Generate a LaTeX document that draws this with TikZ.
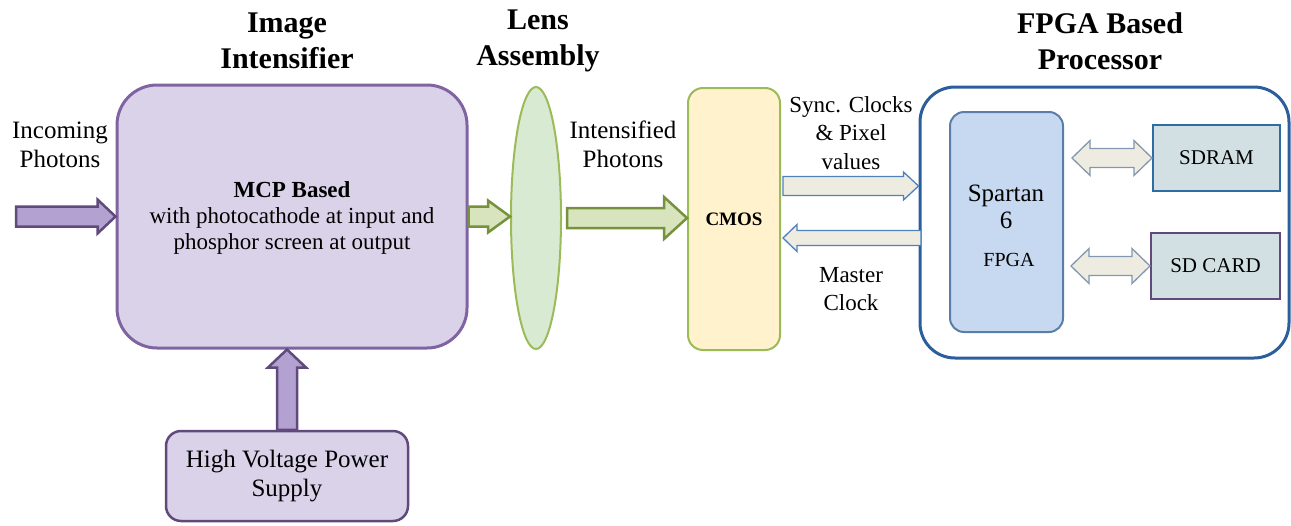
\documentclass[tikz,border=0pt]{standalone}
\usepackage{fontspec}
\setmainfont{Liberation Serif}
\usetikzlibrary{shapes.geometric,calc}
\definecolor{iifill}{HTML}{D9D2E9}
\definecolor{iidraw}{HTML}{8064A2}
\definecolor{parfill}{HTML}{B3A2D1}
\definecolor{pardraw}{HTML}{604A7B}
\definecolor{garfill}{HTML}{D7E4BD}
\definecolor{gardraw}{HTML}{76923C}
\definecolor{lensfill}{HTML}{D9EAD3}
\definecolor{lensdraw}{HTML}{9BBB59}
\definecolor{cmosfill}{HTML}{FFF2CC}
\definecolor{barfill}{HTML}{EEECE1}
\definecolor{bardraw}{HTML}{4F81BD}
\definecolor{fpgadraw}{HTML}{2A5E9C}
\definecolor{spfill}{HTML}{C6D9F1}
\definecolor{spdraw}{HTML}{5A7EA8}
\definecolor{memfill}{HTML}{D2E0E3}
\definecolor{memdraw}{HTML}{2E6DA4}
\definecolor{dbldraw}{HTML}{8497B0}
% horizontal block arrow: style, start, end, shaft half, head half, head length (signed)
\newcommand{\harrow}[6]{\filldraw[#1] let \p1=(#2), \p2=(#3) in
 (\x1,\y1+#4pt) -- (\x2-#6pt,\y1+#4pt) -- (\x2-#6pt,\y1+#5pt) -- (\x2,\y1)
 -- (\x2-#6pt,\y1-#5pt) -- (\x2-#6pt,\y1-#4pt) -- (\x1,\y1-#4pt) -- cycle;}
% double-headed horizontal arrow
\newcommand{\dharrow}[6]{\filldraw[#1] let \p1=(#2), \p2=(#3) in
 (\x1,\y1) -- (\x1+#6pt,\y1+#5pt) -- (\x1+#6pt,\y1+#4pt) -- (\x2-#6pt,\y1+#4pt) -- (\x2-#6pt,\y1+#5pt) -- (\x2,\y1)
 -- (\x2-#6pt,\y1-#5pt) -- (\x2-#6pt,\y1-#4pt) -- (\x1+#6pt,\y1-#4pt) -- (\x1+#6pt,\y1-#5pt) -- cycle;}
\tikzset{
 title/.style={font=\fontsize{30}{36}\selectfont\bfseries, align=center},
 lbl/.style={font=\fontsize{25}{29}\selectfont, align=center},
 slbl/.style={font=\fontsize{23}{28.5}\selectfont, align=center},
 parrow/.style={fill=parfill, draw=pardraw, line width=2.5pt, line join=miter},
 garrow/.style={fill=garfill, draw=gardraw, line width=2.5pt, line join=miter},
 barrow/.style={fill=barfill, draw=bardraw, line width=1.3pt},
 darrow/.style={fill=barfill, draw=dbldraw, line width=1.3pt},
}
\begin{document}
\begin{tikzpicture}[x=1pt,y=-1pt]
\useasboundingbox (0,0) rectangle (1291,525);
% Image intensifier
\node[title] at (287,41) {Image\\Intensifier};
\node[draw=iidraw, fill=iifill, line width=3pt, rounded corners=40pt, minimum width=350pt, minimum height=263pt, inner sep=0pt] (ii) at (292,216.5) {};
\node[font=\fontsize{23}{26}\selectfont, align=center] (mcp) at (292,218) {\textbf{MCP Based}\\with photocathode at input and\\phosphor screen at output};
\node[lbl] (inc) at (60,145) {Incoming\\Photons};
\coordinate (inS) at (16,216.5);
\harrow{parrow}{inS}{ii.west}{10}{17}{18}
% HV supply
\node[draw=pardraw, fill=iifill, line width=2.5pt, rounded corners=15pt, minimum width=242pt, minimum height=90pt, lbl] (hv) at (287,476) {High Voltage Power\\Supply};
\filldraw[parrow] let \p1=(hv.north), \p2=(ii.south) in
 (\x1-10pt,\y1) -- (\x1-10pt,\y2-18pt) -- (\x1-19pt,\y2-18pt) -- (\x1,\y2)
 -- (\x1+19pt,\y2-18pt) -- (\x1+10pt,\y2-18pt) -- (\x1+10pt,\y1) -- cycle;
% Lens
\node[title] at (538,41) {Lens\\Assembly};
\node[ellipse, draw=lensdraw, fill=lensfill, line width=2pt, minimum width=50pt, minimum height=262pt, inner sep=0pt] (lens) at (536,218) {};
\harrow{garrow}{ii.east}{lens.west}{10}{16}{22}
\coordinate (g2) at ($(lens.east)+(5,0)$);
\node[lbl] (intp) at (623,144) {Intensified\\Photons};
% CMOS
\node[draw=lensdraw, fill=cmosfill, line width=2pt, rounded corners=15pt, minimum width=92pt, minimum height=262pt, inner sep=0pt, font=\fontsize{19}{23}\selectfont\bfseries] (cmos) at (734,219) {CMOS};
\harrow{garrow}{g2}{cmos.west}{10}{21}{23}
% FPGA processor
\node[title] at (1100,41) {FPGA Based\\Processor};
\node[draw=fpgadraw, line width=3pt, rounded corners=35pt, minimum width=369pt, minimum height=271pt, inner sep=0pt] (fpga) at (1104.5,222.5) {};
\node[draw=spdraw, fill=spfill, line width=2pt, rounded corners=14pt, minimum width=113pt, minimum height=220pt, inner sep=0pt] (sp) at (1006.5,222) {};
\node[font=\fontsize{25}{27}\selectfont, align=center] (spt) at (1006,207) {Spartan\\6};
\node[font=\fontsize{20}{24}\selectfont] (fpt) at (1009,260) {FPGA};
\node[draw=memdraw, fill=memfill, line width=2pt, minimum width=127pt, minimum height=66pt, inner sep=0pt, font=\fontsize{21}{24}\selectfont] (sdram) at (1216.5,158) {SDRAM};
\node[draw=pardraw, fill=memfill, line width=2pt, minimum width=129pt, minimum height=66pt, inner sep=0pt, font=\fontsize{21}{24}\selectfont] (sdcard) at (1215.5,266) {SD CARD};
\coordinate (d1) at ($(sp.east |- sdram.west)+(8,0)$);
\dharrow{darrow}{d1}{sdram.west}{9.5}{17.5}{18}
\coordinate (d2) at ($(sp.east |- sdcard.west)+(7,0)$);
\dharrow{darrow}{d2}{sdcard.west}{9.5}{17.5}{18}
% CMOS <-> FPGA arrows
\coordinate (s1) at (783,186);
\harrow{barrow}{s1}{fpga.west |- s1}{9.5}{14}{15}
\coordinate (m1) at (921,238);
\coordinate (m2) at (783,238);
\harrow{barrow}{m1}{m2}{7.5}{13.5}{-14}
\node[slbl] (sync) at (851,133) {Sync. Clocks\\\& Pixel\\values};
\node[slbl] (mclk) at (851,289) {Master\\Clock};
\end{tikzpicture}
\end{document}
